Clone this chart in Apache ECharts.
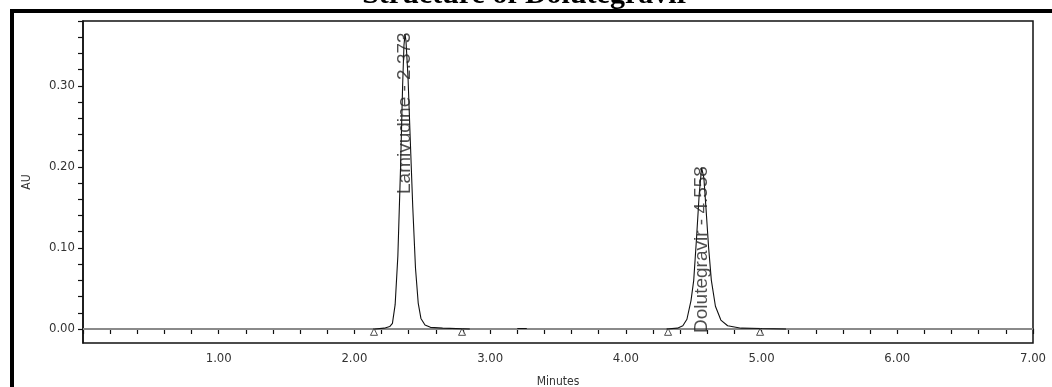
<!DOCTYPE html>
<html><head><meta charset="utf-8">
<script src="https://cdn.jsdelivr.net/npm/echarts@6/dist/echarts.min.js"></script>
<style>html,body{margin:0;padding:0;background:#fff}#c{width:1052px;height:387px}</style>
</head><body><div id="c"></div>
<script>
// ---- data ----
const titleText = 'Structure of Dolutegravir';
const xTickLabels = ['1.00','2.00','3.00','4.00','5.00','6.00','7.00'];
const yTickValues = [0, 0.1, 0.2, 0.3];
// detector trace (minutes, AU); '-' breaks the line
const traceTime = [2.15,2.22,2.26,2.28,2.30,2.32,2.34,2.355,2.365,2.373,2.38,2.395,2.41,2.43,2.45,2.47,2.49,2.52,2.56,2.65,2.85, 2.9,
                   3.20,3.27, 3.3,
                   4.30,4.38,4.42,4.45,4.48,4.50,4.52,4.54,4.558,4.575,4.59,4.61,4.63,4.66,4.70,4.75,4.85,5.00,5.18];
const traceAU   = [0,0.001,0.003,0.007,0.03,0.09,0.20,0.30,0.35,0.364,0.355,0.31,0.24,0.15,0.075,0.032,0.013,0.005,0.002,0.001,0, '-',
                   0.0005,0.0005, '-',
                   0,0.001,0.004,0.012,0.035,0.06,0.11,0.165,0.199,0.186,0.15,0.10,0.06,0.028,0.011,0.004,0.001,0.0005,0];
const baselineTime = [0, 7];
const baselineAU = [0, 0];
const peakTime = [2.373, 4.558];
const peakLabelTop = [0.366, 0.201];
const peakNames = ['Lamivudine - 2.373', 'Dolutegravir - 4.558'];
const markerTime = [2.144, 2.793, 4.311, 4.989];
const markerAU = [-0.0035, -0.0035, -0.0035, -0.0035];

const zip = (a, b) => a.map((v, i) => [v, b[i]]);
const yTicks = [];
for (let i = 0; i <= 19; i++) yTicks.push(+(i * 0.02).toFixed(2));

const axisFont = ['Liberation Sans Narrow','DejaVu Sans Condensed','Liberation Sans','Arial','sans-serif'].join(',');

const chart = echarts.init(document.getElementById('c'), null, {renderer: 'canvas'});
chart.setOption({
  animation: false,
  backgroundColor: '#fff',
  grid: {left: 83, right: 19, top: 21, bottom: 44, show: true, borderColor: '#111', borderWidth: 1.5,
         backgroundColor: 'transparent', containLabel: false, outerBoundsMode: 'none'},
  xAxis: {
    type: 'value', min: 0, max: 7, interval: 1,
    name: 'Minutes', nameLocation: 'middle', nameGap: 33,
    nameTextStyle: {color: '#333', fontSize: 12, fontFamily: axisFont},
    axisLine: {lineStyle: {color: '#111', width: 1.5}},
    axisTick: {show: true, length: 5, lineStyle: {color: '#111', width: 1.2}},
    minorTick: {show: true, splitNumber: 5, length: 5, lineStyle: {color: '#111', width: 1.2}},
    splitLine: {show: false}, minorSplitLine: {show: false},
    axisLabel: {color: '#333', fontSize: 13, fontFamily: axisFont, margin: 9,
      formatter: v => (v >= 1 ? xTickLabels[Math.round(v) - 1] : '')}
  },
  yAxis: {
    type: 'value', min: -0.0173, max: 0.38,
    name: 'AU', nameLocation: 'middle', nameGap: 50, nameRotate: 90,
    nameTextStyle: {color: '#333', fontSize: 12, fontFamily: axisFont},
    axisLine: {show: true, lineStyle: {color: '#111', width: 1.5}},
    axisTick: {show: true, length: 5, customValues: yTicks, lineStyle: {color: '#111', width: 1.2}},
    splitLine: {show: false},
    axisLabel: {color: '#333', fontSize: 13, fontFamily: axisFont, margin: 8,
      customValues: yTickValues, formatter: v => v.toFixed(2)}
  },
  series: [
    {type: 'line', data: zip(baselineTime, baselineAU), symbol: 'none', silent: true,
     lineStyle: {color: '#8a8a8a', width: 2}, z: 1},
    {type: 'line', data: zip(traceTime, traceAU), symbol: 'none', connectNulls: false, silent: true,
     lineStyle: {color: '#111', width: 1.1}, z: 2},
    {type: 'scatter', data: zip(markerTime, markerAU), symbol: 'triangle', symbolSize: 7, silent: true,
     itemStyle: {color: '#fff', borderColor: '#222', borderWidth: 1}, z: 3},
    {type: 'scatter', data: peakTime.map((t, i) => ({value: [t, peakLabelTop[i]], name: peakNames[i]})),
     symbolSize: 0.1, itemStyle: {color: 'rgba(0,0,0,0)'}, silent: true, z: 4,
     label: {show: true, position: 'inside', rotate: 90, align: 'right', verticalAlign: 'middle',
       formatter: p => p.name, color: '#222', fontSize: 19, fontFamily: 'Liberation Sans, Arial, sans-serif'}}
  ],
  graphic: [
    {type: 'text', left: 'center', top: -20, z: 100,
     style: {text: titleText, fontSize: 30, fontWeight: 'bold', fontFamily: 'Liberation Serif, Times New Roman, serif', fill: '#000'}},
    {type: 'rect', shape: {x: 12, y: 11, width: 1060, height: 400}, z: 101,
     style: {fill: 'none', stroke: '#000', lineWidth: 4}}
  ]
});
</script></body></html>
